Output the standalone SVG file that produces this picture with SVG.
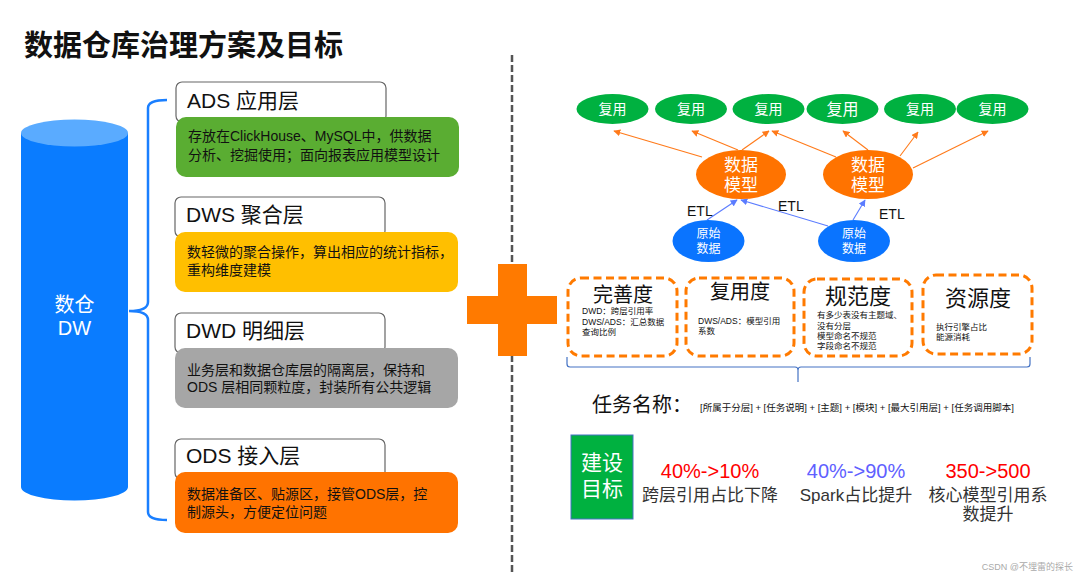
<svg xmlns="http://www.w3.org/2000/svg" width="1080" height="575" viewBox="0 0 1080 575">
<defs>
<style>
text{font-family:"Liberation Sans","Noto Sans CJK SC",sans-serif;}
.hdr{fill:#fff;stroke:#666;stroke-width:1.2;}
.hdrt{font-size:21px;fill:#111;}
.bodyt{font-size:14px;fill:#111;}
.reuse{fill:#00b140;}
.model{fill:#ff7300;}
.raw{fill:#0a74ff;}
.wt{fill:#fff;text-anchor:middle;}
.oarr{stroke:#ff7a1a;stroke-width:1.1;fill:none;marker-end:url(#ah-o);}
.barr{stroke:#5b7cff;stroke-width:1.1;fill:none;marker-end:url(#ah-b);}
.etl{font-size:14px;fill:#111;}
.dbox{fill:none;stroke:#ff7a00;stroke-width:3;stroke-dasharray:8 4.5;}
.dtitle{fill:#111;text-anchor:middle;}
.small{font-size:8.5px;fill:#111;}
.goal{text-anchor:middle;font-size:17px;fill:#333;}
.pct{text-anchor:middle;font-size:20px;}
</style>
<marker id="ah-o" viewBox="0 0 10 10" refX="9" refY="5" markerWidth="7" markerHeight="7" markerUnits="userSpaceOnUse" orient="auto"><path d="M0,0 L10,5 L0,10 z" fill="#ff7a1a"/></marker>
<marker id="ah-b" viewBox="0 0 10 10" refX="9" refY="5" markerWidth="7" markerHeight="7" markerUnits="userSpaceOnUse" orient="auto"><path d="M0,0 L10,5 L0,10 z" fill="#5b7cff"/></marker>
</defs>
<rect width="1080" height="575" fill="#fff"/>

<text x="24" y="56" font-size="29" font-weight="bold" fill="#111">数据仓库治理方案及目标</text>

<!-- cylinder -->
<g id="cylinder">
<path d="M21,133 L21,487 A53.5,13.5 0 0 0 128,487 L128,133 z" fill="#0a7cff"/>
<ellipse cx="74.5" cy="133" rx="53.5" ry="13.5" fill="#5aabff"/>
<text x="74.5" y="312" class="wt" font-size="20">数仓</text>
<text x="74.5" y="335" class="wt" font-size="20">DW</text>
</g>

<!-- left brace -->
<g id="brace-left">
<path d="M167,100 Q148,100 148,108 L148,302 Q148,311 129,311 Q148,311 148,320 L148,512 Q148,520 167,520" fill="none" stroke="#1a7fff" stroke-width="2.5"/>
</g>

<g id="ads">
<rect class="hdr" x="176" y="82" width="210" height="40" rx="6"/>
<text class="hdrt" x="187" y="108">ADS 应用层</text>
<rect x="176" y="117" width="283" height="60" rx="10" fill="#5aad32"/>
<text class="bodyt" x="188" y="141">存放在ClickHouse、MySQL中，供数据</text>
<text class="bodyt" x="188" y="160">分析、挖掘使用；面向报表应用模型设计</text>
</g>

<g id="dws">
<rect class="hdr" x="175" y="197" width="210" height="40" rx="6"/>
<text class="hdrt" x="186" y="222">DWS 聚合层</text>
<rect x="175" y="232" width="283" height="60" rx="10" fill="#ffbf00"/>
<text class="bodyt" x="187" y="257">数轻微的聚合操作，算出相应的统计指标，</text>
<text class="bodyt" x="187" y="275">重构维度建模</text>
</g>

<g id="dwd">
<rect class="hdr" x="175" y="313" width="210" height="40" rx="6"/>
<text class="hdrt" x="186" y="338">DWD 明细层</text>
<rect x="175" y="348" width="283" height="60" rx="10" fill="#a6a6a6"/>
<text class="bodyt" x="187" y="375">业务层和数据仓库层的隔离层，保持和</text>
<text class="bodyt" x="187" y="392">ODS 层相同颗粒度，封装所有公共逻辑</text>
</g>

<g id="ods">
<rect class="hdr" x="175" y="439" width="210" height="40" rx="6"/>
<text class="hdrt" x="186" y="463">ODS 接入层</text>
<rect x="175" y="472" width="283" height="61" rx="10" fill="#ff7300"/>
<text class="bodyt" x="187" y="499">数据准备区、贴源区，接管ODS层，控</text>
<text class="bodyt" x="187" y="517">制源头，方便定位问题</text>
</g>

<!-- divider and plus -->
<line x1="512" y1="55" x2="512" y2="575" stroke="#555" stroke-width="2.5" stroke-dasharray="7 3"/>
<g id="plus">
<path d="M498,264 L527,264 L527,296 L557,296 L557,324 L527,324 L527,356 L498,356 L498,324 L467,324 L467,296 L498,296 z" fill="#ff7a00"/>
</g>

<!-- connectors -->
<g id="connectors">
<line class="oarr" x1="702" y1="157" x2="614" y2="131"/>
<line class="oarr" x1="738" y1="150" x2="692" y2="131"/>
<line class="oarr" x1="742" y1="150" x2="769" y2="131"/>
<line class="oarr" x1="836" y1="157" x2="772" y2="131"/>
<line class="oarr" x1="868" y1="150" x2="843" y2="131"/>
<line class="oarr" x1="900" y1="156" x2="918" y2="132"/>
<line class="oarr" x1="913" y1="168" x2="988" y2="131"/>
<line class="barr" x1="707" y1="220" x2="737" y2="200"/>
<line class="barr" x1="828" y1="226" x2="741" y2="200"/>
<line class="barr" x1="853" y1="220" x2="865" y2="200"/>
<text class="etl" x="687" y="216">ETL</text>
<text class="etl" x="778" y="211">ETL</text>
<text class="etl" x="879" y="219">ETL</text>
</g>

<g id="reuse1"><ellipse class="reuse" cx="612.5" cy="109" rx="36" ry="15"/><text class="wt" x="612.5" y="114" font-size="14">复用</text></g>
<g id="reuse2"><ellipse class="reuse" cx="691" cy="109" rx="36" ry="15"/><text class="wt" x="691" y="114" font-size="14">复用</text></g>
<g id="reuse3"><ellipse class="reuse" cx="768.5" cy="109" rx="36" ry="15"/><text class="wt" x="768.5" y="114" font-size="14">复用</text></g>
<g id="reuse4"><ellipse class="reuse" cx="842.5" cy="109" rx="36" ry="15"/><text class="wt" x="842.5" y="115" font-size="16">复用</text></g>
<g id="reuse5"><ellipse class="reuse" cx="920" cy="109" rx="36" ry="15"/><text class="wt" x="920" y="114" font-size="14">复用</text></g>
<g id="reuse6"><ellipse class="reuse" cx="992.5" cy="109" rx="36" ry="15"/><text class="wt" x="992.5" y="114" font-size="14">复用</text></g>

<g id="model1"><ellipse class="model" cx="741" cy="174.5" rx="45" ry="24.5"/><text class="wt" x="741" y="171" font-size="17">数据</text><text class="wt" x="741" y="191" font-size="17">模型</text></g>
<g id="model2"><ellipse class="model" cx="868" cy="174.5" rx="45" ry="24.5"/><text class="wt" x="868" y="171" font-size="17">数据</text><text class="wt" x="868" y="191" font-size="17">模型</text></g>

<g id="raw1"><ellipse class="raw" cx="708.5" cy="241" rx="36" ry="21"/><text class="wt" x="708.5" y="238" font-size="12">原始</text><text class="wt" x="708.5" y="253" font-size="12">数据</text></g>
<g id="raw2"><ellipse class="raw" cx="854" cy="241" rx="36" ry="21"/><text class="wt" x="854" y="238" font-size="12">原始</text><text class="wt" x="854" y="253" font-size="12">数据</text></g>

<!-- metric boxes -->
<g id="completeness">
<rect class="dbox" x="568" y="278" width="109" height="78" rx="13"/>
<text class="dtitle" x="623" y="302" font-size="20">完善度</text>
<text class="small" x="582" y="314">DWD：跨层引用率</text>
<text class="small" x="582" y="324.5">DWS/ADS：汇总数据</text>
<text class="small" x="582" y="335">查询比例</text>
</g>
<g id="reusability">
<rect class="dbox" x="686" y="278" width="108" height="78" rx="13"/>
<text class="dtitle" x="740" y="299" font-size="20">复用度</text>
<text class="small" x="698" y="323.5">DWS/ADS：模型引用</text>
<text class="small" x="698" y="333.5">系数</text>
</g>
<g id="standard">
<rect class="dbox" x="804" y="279" width="108" height="77" rx="13"/>
<text class="dtitle" x="858" y="304" font-size="22">规范度</text>
<text class="small" x="817" y="318">有多少表没有主题域、</text>
<text class="small" x="817" y="328.5">没有分层</text>
<text class="small" x="817" y="338.5">模型命名不规范</text>
<text class="small" x="817" y="348.5">字段命名不规范</text>
</g>
<g id="resource">
<rect class="dbox" x="923" y="275" width="109" height="79" rx="13"/>
<text class="dtitle" x="978" y="306" font-size="22">资源度</text>
<text class="small" x="936" y="330">执行引擎占比</text>
<text class="small" x="936" y="340">能源消耗</text>
</g>

<g id="brace-bottom">
<path d="M567,357 L567,364 Q567,367 570,367 L795,367 Q798,367 798,370 L798,382 M798,370 Q798,367 801,367 L1027,367 Q1030,367 1030,364 L1030,357" fill="none" stroke="#4472c4" stroke-width="1.2"/>
</g>

<g id="task-name">
<text x="592" y="412" font-size="20" fill="#111">任务名称：</text>
<text x="700" y="411" font-size="9.5" fill="#111">[所属于分层] + [任务说明] + [主题] + [模块] + [最大引用层] + [任务调用脚本]</text>
</g>

<g id="goal-box">
<rect x="571" y="435" width="62" height="84" fill="#00b140" stroke="#4472c4" stroke-width="1"/>
<text class="wt" x="602" y="470" font-size="21">建设</text>
<text class="wt" x="602" y="496" font-size="21">目标</text>
</g>
<g id="goal1">
<text class="pct" x="710" y="478" fill="#ff0000">40%-&gt;10%</text>
<text class="goal" x="710" y="501">跨层引用占比下降</text>
</g>
<g id="goal2">
<text class="pct" x="856" y="478" fill="#6060ff">40%-&gt;90%</text>
<text class="goal" x="856" y="501">Spark占比提升</text>
</g>
<g id="goal3">
<text class="pct" x="988" y="478" fill="#ff0000">350-&gt;500</text>
<text class="goal" x="988" y="501">核心模型引用系</text>
<text class="goal" x="988" y="520">数提升</text>
</g>

<text x="1073" y="570" font-size="9" fill="#aaa" text-anchor="end">CSDN @不埋雷的探长</text>
</svg>
